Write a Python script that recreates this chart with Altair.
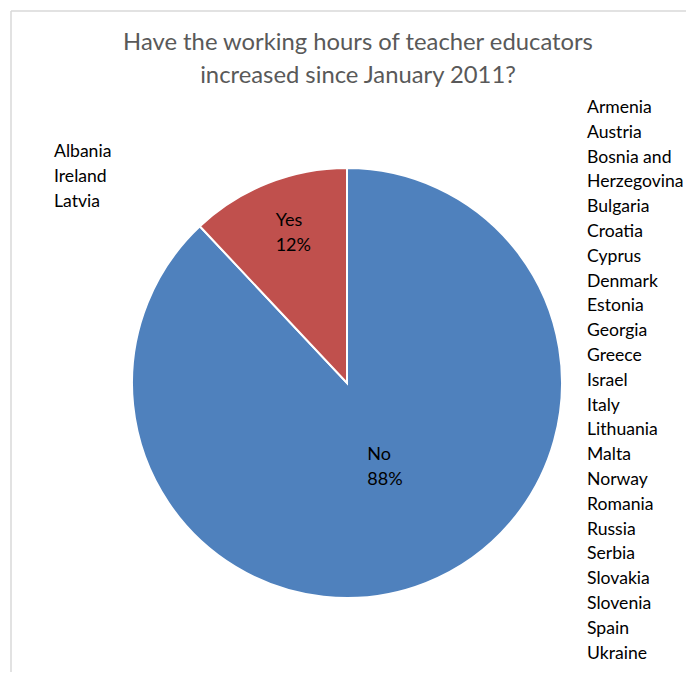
import altair as alt
import pandas as pd

categories = ["No", "Yes"]
values = [88, 12]
pct_labels = ["88%", "12%"]
order = [1, 2]

title_lines = ["Have the working hours of teacher educators", "increased since January 2011?"]

no_countries = ["Armenia", "Austria", "Bosnia and", "Herzegovina", "Bulgaria", "Croatia",
                "Cyprus", "Denmark", "Estonia", "Georgia", "Greece", "Israel", "Italy",
                "Lithuania", "Malta", "Norway", "Romania", "Russia", "Serbia", "Slovakia",
                "Slovenia", "Spain", "Ukraine"]
yes_countries = ["Albania", "Ireland", "Latvia"]

W, H = 678, 664
CX, CY = 339, 375
R = 215
FONT = "Lato"

df = pd.DataFrame({
    "cat": categories,
    "value": values,
    "pct": pct_labels,
    "ord": order,
})
df["label"] = df["cat"] + "\n" + df["pct"]

base = alt.Chart(df)

pie = base.mark_arc(radius=R, stroke="white", strokeWidth=2).encode(
    theta=alt.Theta("value:Q", stack=True),
    order=alt.Order("ord:Q"),
    color=alt.Color("cat:N", scale=alt.Scale(domain=categories, range=["#4F81BD", "#C0504D"]), legend=None),
    x=alt.value(CX),
    y=alt.value(CY),
)

lab_base = base.transform_window(
    cum="sum(value)", sort=[alt.SortField("ord")], frame=[None, 0]
).transform_joinaggregate(
    total="sum(value)"
).transform_calculate(
    ang="(datum.cum - datum.value / 2) / datum.total * 2 * PI"
)


def label_layer(cat, r, dx, dy):
    return lab_base.transform_filter(alt.datum.cat == cat).mark_text(
        font=FONT, fontSize=18, lineBreak="\n", lineHeight=25, align="left",
        baseline="middle", color="#000000", radius=r, dx=dx, dy=dy,
    ).encode(
        theta=alt.Theta("ang:Q", scale=None),
        text="label:N",
        x=alt.value(CX),
        y=alt.value(CY),
    )


labels_yes = label_layer("Yes", 172, -8, -2)
labels_no = label_layer("No", 77, -8, 0)

one = alt.Data(values=[{"a": 1}])

title = alt.Chart(one).mark_text(
    font=FONT, fontSize=23.8, color="#595959", align="center", baseline="alphabetic",
    lineBreak="\n", lineHeight=33,
).encode(x=alt.value(350), y=alt.value(42), text=alt.value("\n".join(title_lines)))

right_list = alt.Chart(one).mark_text(
    font=FONT, fontSize=17.6, color="#000000", align="left", baseline="alphabetic",
    lineBreak="\n", lineHeight=24.8,
).encode(x=alt.value(579), y=alt.value(105), text=alt.value("\n".join(no_countries)))

left_list = alt.Chart(one).mark_text(
    font=FONT, fontSize=17.6, color="#000000", align="left", baseline="alphabetic",
    lineBreak="\n", lineHeight=24.8,
).encode(x=alt.value(46), y=alt.value(149), text=alt.value("\n".join(yes_countries)))

frame_top = alt.Chart(one).mark_rule(color="#d9d9d9", strokeWidth=1.5).encode(
    x=alt.value(3), x2=alt.value(W), y=alt.value(3))
frame_left = alt.Chart(one).mark_rule(color="#d9d9d9", strokeWidth=1.5).encode(
    x=alt.value(3), y=alt.value(3), y2=alt.value(H))

chart = alt.layer(frame_top, frame_left, pie, labels_yes, labels_no, title, right_list, left_list).properties(
    width=W, height=H, padding=0, autosize=alt.AutoSizeParams(type="none"),
).configure_view(stroke=None)

chart.save("out.html", embed_options={"renderer": "svg", "actions": False})
